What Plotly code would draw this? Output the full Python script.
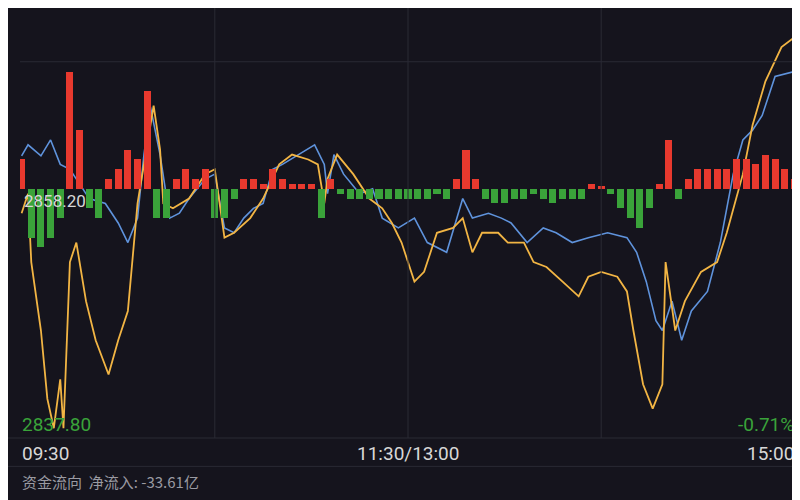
import plotly.graph_objects as go

# 分时数据 (分钟, 点位)
blue_t = [0,2,6,9,12,15,18,21,26,30,33,36,38,40,43,46,49,52,57,60,63,66,69,72,75,78,81,86,91,94,95,97,100,105,109,112,117,122,126,132,137,140,145,149,152,157,162,166,171,176,182,188,191,194,197,199,202,205,208,213,217,221,224,227,230,234,240]
blue_v = [2860.9,2861.8,2860.9,2862.2,2860.2,2859.8,2858.6,2857.4,2857.0,2855.4,2853.8,2855.8,2861.0,2864.9,2861.0,2855.8,2856.2,2857.4,2859.0,2859.4,2855.0,2854.6,2855.8,2856.6,2857.0,2859.8,2860.2,2861.0,2861.8,2860.2,2857.8,2861.0,2859.4,2857.8,2858.2,2855.8,2855.0,2855.8,2853.8,2853.0,2857.4,2855.8,2856.2,2855.8,2855.4,2853.8,2855.0,2854.6,2853.8,2854.2,2854.6,2854.2,2853.0,2850.6,2847.4,2846.6,2849.0,2845.8,2848.2,2849.8,2853.8,2859.4,2862.2,2863.0,2864.2,2867.4,2867.8]

yellow_t = [0,2,3,6,8,10,12,13,15,17,20,23,27,30,33,36,39,41,43,44,47,52,57,60,63,66,71,75,80,84,89,92,94,95,98,103,108,112,115,118,122,125,129,134,137,140,143,148,151,156,159,163,168,173,176,180,185,188,190,193,196,199,200,203,206,211,216,219,224,227,231,236,240]
yellow_v = [2856.2,2857.8,2852.2,2846.6,2841.0,2838.6,2842.6,2838.6,2852.2,2853.8,2849.0,2845.8,2843.0,2845.8,2848.2,2857.0,2861.8,2865.0,2861.4,2857.0,2856.6,2857.4,2859.4,2859.8,2854.2,2854.6,2855.8,2857.4,2860.2,2861.0,2860.6,2860.2,2857.0,2859.0,2861.0,2859.4,2857.4,2856.6,2855.4,2853.8,2850.6,2851.4,2854.6,2855.0,2855.8,2853.0,2854.6,2854.6,2853.8,2853.8,2852.2,2851.8,2850.6,2849.4,2851.0,2851.4,2851.0,2849.8,2846.6,2842.2,2840.2,2842.2,2852.2,2846.6,2849.0,2851.4,2852.2,2854.6,2859.4,2863.4,2867.0,2869.8,2870.6]

# 资金流向 (每3分钟)
flow = [3,-5,-6,-5,-3,12,6,-2,-3,1,2,4,3,10,-3,-3,1,2,1,2,-3,-3,-1,1,1,0.5,2,1,0.5,0.5,
        0.5,-3,1,-0.5,-1,-1,-1,-1,-1,-1,-1,-1,-1,-0.5,-1,1,4,1,-1,-1.5,-1.5,-1,-1,-0.5,-1,-1.5,-1,-1,-1,0.5,
        0.3,-0.5,-2,-3,-4,-2,0.5,5,-1,1,2,2,2,2,3,3,2.5,3.5,3,2,1]
flow_t = [i * 3 for i in range(len(flow))]

pre_close = 2858.20
low_label = "2837.80"
chg_label = "-0.71%"
time_labels = ["09:30", "11:30/13:00", "15:00"]

bg = "#15141d"
fig = go.Figure()
fig.add_trace(go.Bar(x=flow_t, y=flow, yaxis="y2", width=2.2,
                     marker=dict(color=["#e8392e" if v > 0 else "#3aa33a" for v in flow], line_width=0)))
fig.add_trace(go.Scatter(x=blue_t, y=blue_v, mode="lines", line=dict(color="#5f93dc", width=1.6)))
fig.add_trace(go.Scatter(x=yellow_t, y=yellow_v, mode="lines", line=dict(color="#f2b544", width=1.8)))

shapes = []
for m in [60, 120, 180]:
    shapes.append(dict(type="line", xref="x", yref="paper", x0=m, x1=m, y0=0, y1=1,
                       line=dict(color="#2a2a34", width=1)))
shapes.append(dict(type="line", xref="paper", yref="y", x0=0, x1=1, y0=2868.6, y1=2868.6,
                   line=dict(color="#2a2a34", width=1)))
shapes.append(dict(type="line", xref="paper", yref="paper", x0=-0.02, x1=1.02, y0=0, y1=0,
                   line=dict(color="#2a2a34", width=1)))
shapes.append(dict(type="line", xref="paper", yref="paper", x0=-0.02, x1=1.02, y0=-0.066, y1=-0.066,
                   line=dict(color="#2a2a34", width=1)))

ann = [
    dict(x=0, y=pre_close, xref="x", yref="y", text=f"{pre_close:.2f}", showarrow=False,
         xanchor="left", yanchor="top", font=dict(color="#d8d8d8", size=17)),
    dict(x=0, y=0, xref="paper", yref="paper", text=low_label, showarrow=False,
         xanchor="left", yanchor="bottom", font=dict(color="#3aa33a", size=19)),
    dict(x=1, y=0, xref="paper", yref="paper", text=chg_label, showarrow=False,
         xanchor="right", yanchor="bottom", font=dict(color="#3aa33a", size=19)),
    dict(x=0, y=-0.005, xref="paper", yref="paper", text=time_labels[0], showarrow=False,
         xanchor="left", yanchor="top", font=dict(color="#d8d8d8", size=19)),
    dict(x=0.5, y=-0.005, xref="paper", yref="paper", text=time_labels[1], showarrow=False,
         xanchor="center", yanchor="top", font=dict(color="#d8d8d8", size=19)),
    dict(x=1, y=-0.005, xref="paper", yref="paper", text=time_labels[2], showarrow=False,
         xanchor="right", yanchor="top", font=dict(color="#d8d8d8", size=19)),
    dict(x=0, y=-0.072, xref="paper", yref="paper", text="资金流向  净流入: -33.61亿", showarrow=False,
         xanchor="left", yanchor="top", font=dict(color="#9a9aa2", size=15, family="Noto Sans CJK SC")),
]

fig.update_layout(
    width=800, height=500, margin=dict(l=12, r=12, t=0, b=70),
    paper_bgcolor=bg, plot_bgcolor=bg, showlegend=False, bargap=0,
    font=dict(family="Roboto"),
    xaxis=dict(range=[-0.5, 240.5], showgrid=False, zeroline=False, showticklabels=False),
    yaxis=dict(range=[2837.8, 2873.0], showgrid=False, zeroline=False, showticklabels=False),
    yaxis2=dict(range=[-25.5, 18.5], overlaying="y", showgrid=False, zeroline=False, showticklabels=False),
    shapes=shapes, annotations=ann,
)
fig.write_html("out.html")
